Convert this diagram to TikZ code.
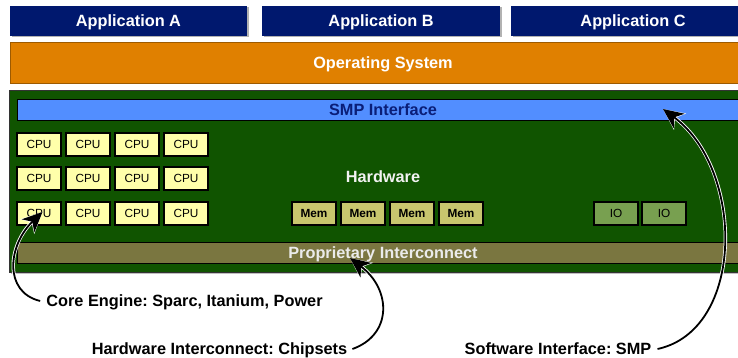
\documentclass[tikz,border=0pt]{standalone}
\usepackage{fontspec}
\setmainfont{Liberation Sans}
\frenchspacing
\usetikzlibrary{arrows.meta,shadows,calc}
\definecolor{appblue}{RGB}{0,24,110}
\definecolor{osorange}{RGB}{224,128,0}
\definecolor{hwgreen}{RGB}{16,84,0}
\definecolor{smpblue}{RGB}{82,142,255}
\definecolor{smptext}{RGB}{10,30,120}
\definecolor{cpufill}{RGB}{255,255,170}
\definecolor{memfill}{RGB}{200,198,110}
\definecolor{iofill}{RGB}{120,160,80}
\definecolor{icfill}{RGB}{122,118,64}
\begin{document}
\begin{tikzpicture}[x=1pt,y=-1pt,
  big/.style={font=\fontsize{16.3}{18}\selectfont\bfseries,text height=11.7pt,text depth=0pt},
  boxbase/.style={anchor=north west,inner sep=0pt,outer sep=0pt},
  appbox/.style={boxbase,big,fill=appblue,text=white,minimum width=237,minimum height=30,
     drop shadow={shadow xshift=1.5pt,shadow yshift=-1.5pt,fill=gray,opacity=0.6}},
  osbox/.style={boxbase,big,fill=osorange,draw=osorange!70!black,line width=0.6pt,text=white,
     drop shadow={shadow xshift=1.5pt,shadow yshift=-1.5pt,fill=gray,opacity=0.5}},
  hwbox/.style={boxbase,fill=hwgreen,draw=black!80,line width=0.8pt,
     drop shadow={shadow xshift=1.5pt,shadow yshift=-1.5pt,fill=gray,opacity=0.5}},
  smpbox/.style={boxbase,big,fill=smpblue,draw=black,line width=0.8pt,text=smptext},
  icbox/.style={boxbase,big,fill=icfill,draw=black,line width=0.8pt,text=white!92!black},
  unit/.style={boxbase,draw=black,line width=1.2pt,minimum width=44,minimum height=23,
     font=\fontsize{11.8}{13}\selectfont,text height=8.5pt,text depth=0pt},
  cpubox/.style={unit,fill=cpufill},
  membox/.style={unit,fill=memfill,font=\fontsize{11.8}{13}\selectfont\bfseries},
  iobox/.style={unit,fill=iofill},
  lbl/.style={big,text=black,inner sep=0pt},
  callout/.style={line width=1.8pt,draw=black,
     -{Stealth[length=20pt,width=18pt,inset=6pt]},
     preaction={draw=white,line width=3.4pt,-{Stealth[length=21pt,width=20pt,inset=6pt]}}}
]
\clip (0,0) rectangle (738,358);
\useasboundingbox (0,0) rectangle (738,358);
\fill[white] (0,0) rectangle (738,358);

% applications
\node[appbox] (appA) at (10,6) {Application A};
\node[appbox,minimum width=238] (appB) at (262,6) {Application B};
\node[appbox,minimum width=244] (appC) at (511,6) {Application C};

% operating system
\node[osbox,minimum width=746,minimum height=41] (os) at (10,42) {Operating System};

% hardware
\node[hwbox,minimum width=748,minimum height=182] (hw) at (9,90) {};
\node[smpbox,minimum width=732,minimum height=21] (smp) at (17,99) {SMP Interface};
\node[big,text=white!95!black,inner sep=0pt] (hwlbl) at (383,177) {Hardware};
\node[icbox,minimum width=732,minimum height=21] (ic) at (17,242) {Proprietary Interconnect};

% CPUs
\foreach \r/\yy in {1/133,2/167,3/202}{
  \foreach \c/\xx in {1/17,2/66,3/115,4/164}{
    \node[cpubox] (cpu\r\c) at (\xx,\yy) {CPU};
  }
}
% memory
\foreach \c/\xx in {1/292,2/341,3/390,4/439}{
  \node[membox] (mem\c) at (\xx,202) {Mem};
}
% IO
\node[iobox] (io1) at (594,202) {IO};
\node[iobox] (io2) at (642,202) {IO};

% labels
\node[lbl] (core) at (184.5,301) {Core Engine: Sparc, Itanium, Power};
\node[lbl] (hwic) at (219.5,349) {Hardware Interconnect: Chipsets};
\node[lbl] (swif) at (558,349) {Software Interface: SMP};

% target points
\coordinate (tcpu) at ($(cpu31.center)+(3.5,-1.5)$);
\coordinate (tic) at (350,258);
\coordinate (tsmp) at (663,109);

% callouts
\draw[callout] ([xshift=-6pt]core.west) .. controls (3,292) and (8,245) .. (tcpu);
\draw[callout] ([xshift=5pt]hwic.east) .. controls (392,335) and (392,290) .. (tic);
\draw[callout] ([xshift=6pt]swif.east) .. controls (745,330) and (745,170) .. (tsmp);
\end{tikzpicture}
\end{document}
